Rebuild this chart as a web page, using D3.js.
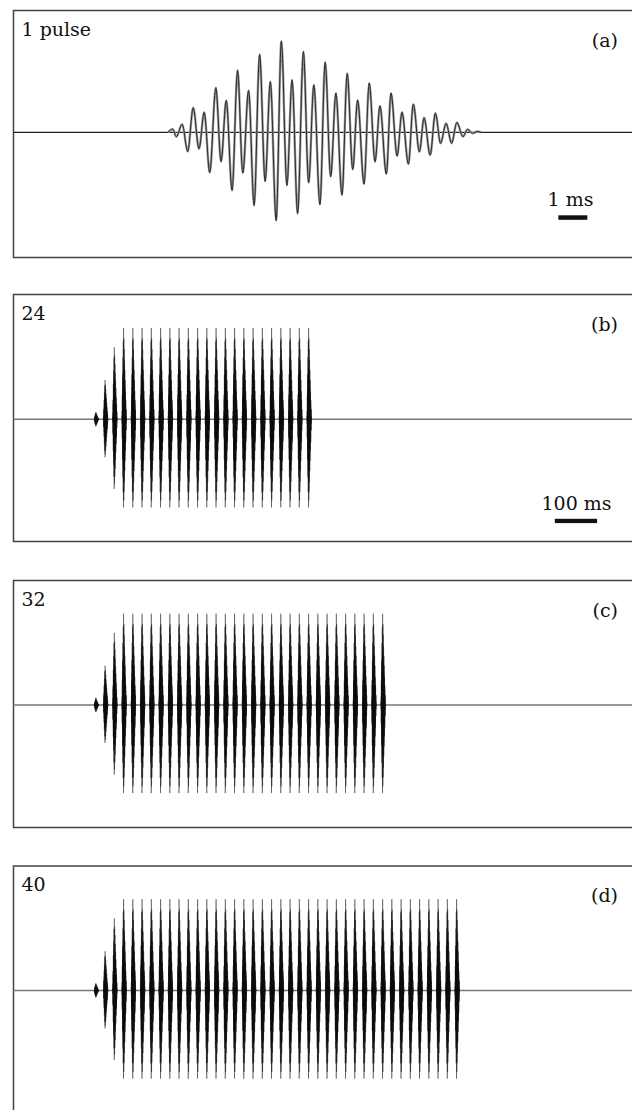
<!DOCTYPE html>
<html>
<head>
<meta charset="utf-8">
<script src="https://cdn.jsdelivr.net/npm/d3@7"></script>
<style>
  html, body { margin: 0; padding: 0; background: #fff; }
  svg { display: block; }
  text { font-family: "DejaVu Serif", "Liberation Serif", serif; fill: #111; }
</style>
</head>
<body>
<svg id="chart" width="632" height="1110"></svg>
<script>
// ---------- DATA ----------
// Single pulse: times (ms from onset) of the waveform extrema and their relative amplitude
const pulseTimes = [0, 0.16, 0.29, 0.49, 0.68, 0.87, 1.07, 1.25, 1.44, 1.65, 1.83, 2.01, 2.21, 2.40, 2.58,
  2.78, 2.97, 3.16, 3.35, 3.53, 3.73, 3.91, 4.10, 4.28, 4.47, 4.67, 4.85, 5.03, 5.24, 5.42, 5.61,
  5.79, 6.00, 6.18, 6.37, 6.54, 6.76, 6.94, 7.14, 7.31, 7.53, 7.69, 7.90, 8.07, 8.29, 8.46, 8.67,
  8.83, 9.04, 9.22, 9.40, 9.59, 9.78, 9.96, 10.17, 10.33, 10.50, 10.67, 10.80];
const pulseAmps = [0, 0.036, -0.047, 0.091, -0.21, 0.27, -0.18, 0.22, -0.44, 0.49, -0.32, 0.35, -0.635, 0.68, -0.445,
  0.46, -0.80, 0.855, -0.535, 0.555, -0.965, 1.00, -0.58, 0.575, -0.89, 0.885, -0.55, 0.52, -0.79, 0.77, -0.485,
  0.43, -0.686, 0.645, -0.405, 0.354, -0.566, 0.54, -0.321, 0.29, -0.456, 0.43, -0.259, 0.22, -0.347, 0.31, -0.212,
  0.16, -0.248, 0.21, -0.12, 0.10, -0.12, 0.11, -0.047, 0.033, -0.01, 0.01, 0];

// Pulse trains: onset time of each pulse (ms) and number of pulses per panel
const pulseOnsets = [0, 21.9, 43.7, 65.6, 87.5, 109.3, 131.2, 153.1, 175.0, 196.8, 218.7, 240.6, 262.4, 284.3,
  306.2, 328.0, 349.9, 371.8, 393.7, 415.5, 437.4, 459.3, 481.1, 503.0, 524.9, 546.7, 568.6, 590.5,
  612.3, 634.2, 656.1, 678.0, 699.8, 721.7, 743.6, 765.4, 787.3, 809.2, 831.0, 852.9];
const trainCounts = [24, 32, 40];
const rampGains = [0.08, 0.43, 0.79]; // first pulses of each train ramp up; the rest are at full level

const countLabels = ["1 pulse", "24", "32", "40"];
const panelLetters = ["(a)", "(b)", "(c)", "(d)"];
const scaleBarA = { length: 1, start: 13.46, label: "1 ms" };
const scaleBarT = { length: 100, start: 1089, label: "100 ms" };

// ---------- LAYOUT ----------
const svg = d3.select("#chart");
svg.append("rect").attr("width", 632).attr("height", 1110).attr("fill", "#fff");

const frameLeft = 13.5, frameH = 247;
const tops = [10.5, 294.5, 580.5, 866];
const baselines = [132.4, 419.3, 705, 990.5];
const unit = 91.3;

const xA = d3.scaleLinear().domain([-5.33, 16]).range([13.4, 632]);
const xT = d3.scaleLinear().domain([-190, 1271]).range([13.8, 631.8]);

const pulsePts = pulseTimes.map((t, i) => ({ t, a: pulseAmps[i] }));

tops.forEach((top, p) => {
  const g = svg.append("g");
  const y = d3.scaleLinear().domain([-1, 1]).range([baselines[p] + unit, baselines[p] - unit]);

  // frame
  g.append("rect")
    .attr("x", frameLeft).attr("y", top)
    .attr("width", 700).attr("height", frameH)
    .attr("fill", "none").attr("stroke", "#444").attr("stroke-width", 1.5);

  if (p === 0) {
    // zero line
    g.append("line")
      .attr("x1", frameLeft).attr("x2", 632)
      .attr("y1", y(0)).attr("y2", y(0))
      .attr("stroke", "#222").attr("stroke-width", 1.2);
    const line = d3.line().x(d => xA(d.t)).y(d => y(d.a)).curve(d3.curveMonotoneX);
    g.append("path").attr("d", line(pulsePts))
      .attr("fill", "none").attr("stroke", "#9a9a9a").attr("stroke-width", 2.4);
    g.append("path").attr("d", line(pulsePts))
      .attr("fill", "none").attr("stroke", "#2a2a2a").attr("stroke-width", 1.0);

    // scale bar
    g.append("rect")
      .attr("x", xA(scaleBarA.start)).attr("width", xA(scaleBarA.start + scaleBarA.length) - xA(scaleBarA.start))
      .attr("y", 215.3).attr("height", 4.5).attr("fill", "#111");
    g.append("text").attr("x", 570.5).attr("y", 206)
      .attr("text-anchor", "middle").attr("font-size", 19).text(scaleBarA.label);
  } else {
    g.append("line")
      .attr("x1", frameLeft).attr("x2", 632)
      .attr("y1", y(0)).attr("y2", y(0))
      .attr("stroke", "#777").attr("stroke-width", 1.6);
    const line = d3.line().x(d => d.x).y(d => d.y).curve(d3.curveMonotoneX);
    const n = trainCounts[p - 1];
    for (let i = 0; i < n; i++) {
      const gain = i < rampGains.length ? rampGains[i] : 1;
      const on = pulseOnsets[i];
      const pts = pulsePts.map(d => ({ x: xT(on + d.t), y: y(d.a * gain) }));
      g.append("path").attr("d", line(pts))
        .attr("fill", "none").attr("stroke", "#111").attr("stroke-width", 0.7)
        .attr("stroke-opacity", 0.6);
    }
    if (p === 1) {
      g.append("rect")
        .attr("x", xT(scaleBarT.start)).attr("width", xT(scaleBarT.start + scaleBarT.length) - xT(scaleBarT.start))
        .attr("y", 518.8).attr("height", 4.3).attr("fill", "#111");
      g.append("text").attr("x", 576.5).attr("y", 510)
        .attr("text-anchor", "middle").attr("font-size", 19).text(scaleBarT.label);
    }
  }

  g.append("text").attr("x", 21.5).attr("y", top + 25)
    .attr("font-size", 19).text(countLabels[p]);
  g.append("text").attr("x", 618).attr("y", top + 36)
    .attr("text-anchor", "end").attr("font-size", 19).text(panelLetters[p]);
});
</script>
</body>
</html>
